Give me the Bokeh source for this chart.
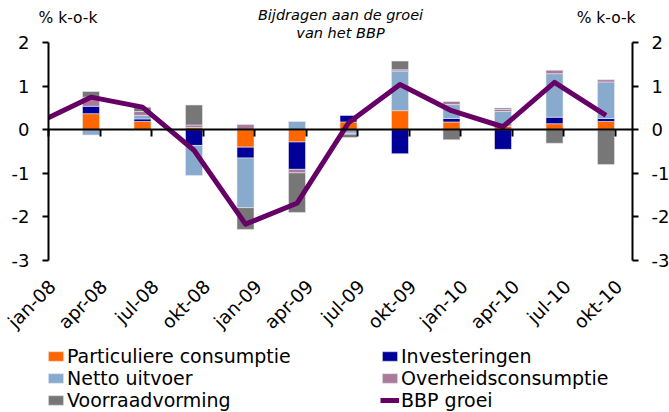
import numpy as np
from bokeh.plotting import figure
from bokeh.models import (Range1d, LinearAxis, FixedTicker, Label, Legend, LegendItem)
from bokeh.embed import file_html
from bokeh.resources import INLINE

quarters = ["jan-08", "apr-08", "jul-08", "okt-08", "jan-09", "apr-09",
            "jul-09", "okt-09", "jan-10", "apr-10", "jul-10", "okt-10"]
particuliere = [0.15, 0.37, 0.19, 0.05, -0.40, -0.28, 0.18, 0.44, 0.18, 0.08, 0.14, 0.19]
investeringen = [0.10, 0.17, 0.06, -0.36, -0.25, -0.63, 0.15, -0.55, 0.08, -0.45, 0.15, 0.07]
netto_uitvoer = [-0.20, -0.12, 0.08, -0.69, -1.14, 0.19, -0.08, 0.91, 0.32, 0.34, 1.00, 0.84]
overheid = [0.05, 0.21, 0.09, 0.06, 0.12, -0.08, -0.02, 0.03, 0.07, 0.05, 0.08, 0.05]
voorraad = [0.08, 0.13, 0.10, 0.46, -0.50, -0.91, -0.08, 0.20, -0.23, 0.03, -0.31, -0.80]
bbp_groei = [0.18, 0.75, 0.52, -0.47, -2.17, -1.69, 0.16, 1.04, 0.44, 0.07, 1.09, 0.33]
y_ticks = [-3, -2, -1, 0, 1, 2]

series = [
    ("Particuliere consumptie", particuliere, "#FF6600"),
    ("Investeringen", investeringen, "#000099"),
    ("Netto uitvoer", netto_uitvoer, "#88AACC"),
    ("Overheidsconsumptie", overheid, "#A87B9B"),
    ("Voorraadvorming", voorraad, "#777777"),
]

FONT = "DejaVu Sans"
x = np.arange(len(quarters), dtype=float)

# plot-area limits (the value axes sit here)
X_LEFT, X_RIGHT = 0.175, 11.515
Y_MIN, Y_MAX = -3, 2

p = figure(width=669, height=412, output_backend="svg", toolbar_location=None,
           x_range=Range1d(-0.757, 12.233), y_range=Range1d(-6.499, 2.972),
           min_border_left=0, min_border_right=0, min_border_top=0, min_border_bottom=0,
           x_axis_location=None, y_axis_location=None)
p.outline_line_color = None
p.xgrid.visible = False
p.ygrid.visible = False
p.background_fill_color = "white"
p.border_fill_color = "white"

# stacked bars: positives up, negatives down, in series order
pos = np.zeros(len(x))
neg = np.zeros(len(x))
renderers = {}
for name, vals, color in series:
    v = np.array(vals)
    bottom = np.where(v >= 0, pos, neg)
    top = bottom + v
    pos = np.where(v >= 0, top, pos)
    neg = np.where(v < 0, top, neg)
    r = p.vbar(x=x, width=0.33, bottom=bottom, top=top, fill_color=color,
               line_color="#E8E8F0", line_width=0.6)
    renderers[name] = r

line_r = p.line(x=x, y=bbp_groei, line_color="#660066", line_width=5, line_join="round")

# the plot area ends at the value axis: hide what lies left of it
p.quad(left=[-0.757], right=[X_LEFT], bottom=[Y_MIN - 0.2], top=[Y_MAX + 0.05],
       fill_color="white", line_color=None)

# value axes
for side, loc in (("left", X_LEFT), ("right", X_RIGHT)):
    ax = LinearAxis(ticker=FixedTicker(ticks=y_ticks), fixed_location=loc, bounds=(Y_MIN, Y_MAX),
                    major_label_overrides={t: str(t) for t in y_ticks})
    ax.axis_line_width = 2
    ax.major_tick_line_width = 2
    ax.major_tick_out = 6
    ax.major_tick_in = 0
    ax.minor_tick_line_color = None
    ax.major_label_text_font = FONT
    ax.major_label_text_font_size = "18px"
    ax.major_label_text_color = "black"
    ax.major_label_standoff = 13
    p.add_layout(ax, side)

# category axis line at zero with tick marks
cat_ticks = [float(v) for v in x + X_LEFT]
zax = LinearAxis(ticker=FixedTicker(ticks=cat_ticks), fixed_location=0, bounds=(X_LEFT, X_RIGHT),
                 major_label_overrides={t: "" for t in cat_ticks})
zax.axis_line_width = 2
zax.major_tick_line_width = 2
zax.major_tick_out = 7
zax.major_tick_in = 0
zax.minor_tick_line_color = None
p.add_layout(zax, "below")

# category labels at the bottom of the plot area
lab_ticks = [float(v) for v in x + 0.25]
xax = LinearAxis(ticker=FixedTicker(ticks=lab_ticks), fixed_location=Y_MIN,
                 major_label_overrides={t: q for t, q in zip(lab_ticks, quarters)})
xax.axis_line_color = None
xax.major_tick_line_color = None
xax.major_tick_out = 0
xax.major_tick_in = 0
xax.minor_tick_line_color = None
xax.major_label_orientation = np.pi / 4
xax.major_label_standoff = 23
xax.major_label_text_font = FONT
xax.major_label_text_font_size = "18.5px"
xax.major_label_text_color = "black"
p.add_layout(xax, "below")

# texts
p.add_layout(Label(x=-0.019, y=2.58, text="% k-o-k", text_font=FONT, text_font_size="15.5px",
                   text_align="left", text_baseline="middle", text_color="black"))
p.add_layout(Label(x=11.573, y=2.58, text="% k-o-k", text_font=FONT, text_font_size="15.5px",
                   text_align="right", text_baseline="middle", text_color="black"))
p.add_layout(Label(x=5.845, y=2.628, text="Bijdragen aan de groei", text_font=FONT,
                   text_font_size="14.5px", text_font_style="italic", text_align="center",
                   text_baseline="middle", text_color="black"))
p.add_layout(Label(x=5.845, y=2.214, text="van het BBP", text_font=FONT,
                   text_font_size="14.5px", text_font_style="italic", text_align="center",
                   text_baseline="middle", text_color="black"))

items = [LegendItem(label=name, renderers=[renderers[name]]) for name, _, _ in series]
items.append(LegendItem(label="BBP groei", renderers=[line_r]))
legend = Legend(items=items, location=(46, 1), orientation="horizontal", ncols=2,
                glyph_width=19, glyph_height=12, label_standoff=2, label_width=313,
                label_height=21, spacing=0, padding=0, margin=0,
                border_line_color=None, background_fill_alpha=0,
                label_text_font=FONT, label_text_font_size="19px", label_text_color="black")
p.add_layout(legend, "center")

open("out.html", "w").write(file_html(p, INLINE))
